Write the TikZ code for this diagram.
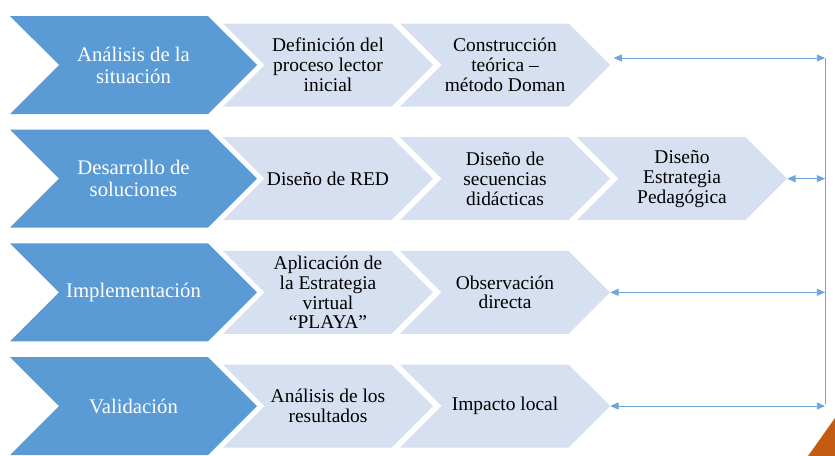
\documentclass[tikz,border=0pt]{standalone}
\usepackage{fontspec}
\setmainfont{Liberation Serif}
\newfontfamily\timesfont{Liberation Serif}
\usetikzlibrary{shapes.symbols, arrows.meta, positioning}
\definecolor{phasecolor}{RGB}{91,155,213}
\definecolor{stepcolor}{RGB}{214,224,240}
\definecolor{linkcolor}{RGB}{110,165,220}
\definecolor{accentorange}{RGB}{197,90,17}

\begin{document}
\begin{tikzpicture}[
    phase/.style={signal, signal from=west, signal to=east, signal pointer angle=90, fill=phasecolor, text=white, minimum width=7.41cm, minimum height=2.94cm, inner sep=0pt, align=center, font=\timesfont\fontsize{17.7}{18.8}\selectfont},
    stepbox/.style={signal, signal from=west, signal to=east, signal pointer angle=90, fill=stepcolor, minimum width=6.3cm, minimum height=2.49cm, inner sep=0pt, align=center, font=\timesfont\fontsize{16.6}{17}\selectfont},
    link/.style={draw=linkcolor, line width=0.8pt, {Triangle[length=7pt,width=6pt]}-{Triangle[length=7pt,width=6pt]}}
]
    \useasboundingbox (0,0) rectangle (25.05,-13.68);

    % Analisis de la situacion
    \node[phase] (analisis) at (4.005,-1.95) {Análisis de la\\situación};
    \node[stepbox] (definicion) at (9.84,-1.95) {Definición del\\proceso lector\\inicial};
    \node[stepbox] (construccion) at (15.15,-1.95) {Construcción\\teórica –\\método Doman};

    % Desarrollo de soluciones
    \node[phase] (desarrollo) at (4.005,-5.36) {Desarrollo de\\soluciones};
    \node[stepbox] (red) at (9.84,-5.36) {Diseño de RED};
    \node[stepbox] (secuencias) at (15.15,-5.36) {Diseño de\\secuencias\\didácticas};
    \node[stepbox] (estrategia) at (20.46,-5.36) {Diseño\\Estrategia\\Pedagógica};

    % Implementacion
    \node[phase] (implementacion) at (4.005,-8.77) {Implementación};
    \node[stepbox] (aplicacion) at (9.84,-8.77) {Aplicación de\\la Estrategia\\virtual\\“PLAYA”};
    \node[stepbox] (observacion) at (15.15,-8.77) {Observación\\directa};

    % Validacion
    \node[phase] (validacion) at (4.005,-12.18) {Validación};
    \node[stepbox] (resultados) at (9.84,-12.18) {Análisis de los\\resultados};
    \node[stepbox] (impacto) at (15.15,-12.18) {Impacto local};

    % Feedback bus
    \coordinate (bustop) at (24.75,-1.74);
    \coordinate (busbot) at (24.75,-12.12);
    \draw[draw=linkcolor, line width=0.8pt] (bustop) -- (busbot);
    \draw[link] ([shift={(0.1,0.21)}]construccion.east) -- ([yshift=0.21cm]construccion.east -| bustop);
    \draw[link] (estrategia.east) -- (estrategia.east -| bustop);
    \draw[link] (observacion.east) -- (observacion.east -| bustop);
    \draw[link] (impacto.east) -- (impacto.east -| bustop);

    % Corner accent
    \fill[accentorange] (24.24,-13.68) -- (25.05,-12.54) -- (25.05,-13.68) -- cycle;
\end{tikzpicture}
\end{document}
